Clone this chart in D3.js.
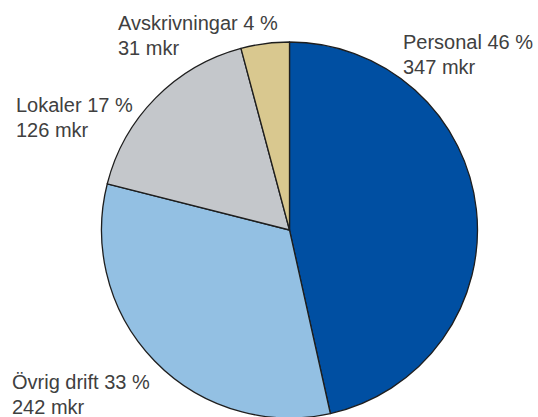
<!DOCTYPE html>
<html>
<head>
<meta charset="utf-8">
<script src="https://cdn.jsdelivr.net/npm/d3@7"></script>
<style>
  html, body { margin: 0; padding: 0; background: #fff; }
  #chart { width: 538px; height: 417px; }
</style>
</head>
<body>
<div id="chart"></div>
<script>
// data, clockwise from 12 o'clock
var categories = ['Personal', 'Övrig drift', 'Lokaler', 'Avskrivningar'];
var amounts = [347, 242, 126, 31];      // mkr
var percents = [46, 33, 17, 4];         // as printed
var colors = ['#004fa2', '#93c0e3', '#c4c7cb', '#d9c88f'];

// label anchors (left x, first baseline)
var labelPos = [[403, 49], [12, 389], [16, 112], [118, 30]];

var width = 538, height = 417;
var cx = 289.5, cy = 230, radius = 188;

var svg = d3.select('#chart').append('svg')
  .attr('width', width)
  .attr('height', height)
  .attr('viewBox', '0 0 ' + width + ' ' + height);

var pie = d3.pie()
  .value(function(d) { return d; })
  .sort(null);

var arc = d3.arc()
  .innerRadius(0)
  .outerRadius(radius);

var g = svg.append('g')
  .attr('transform', 'translate(' + cx + ',' + cy + ')');

g.selectAll('path')
  .data(pie(amounts))
  .enter().append('path')
  .attr('d', arc)
  .attr('fill', function(d, i) { return colors[i]; })
  .attr('stroke', '#1e1e1e')
  .attr('stroke-width', 1.3)
  .attr('stroke-linejoin', 'round');

var labels = svg.selectAll('text.lbl')
  .data(categories)
  .enter().append('text')
  .attr('class', 'lbl')
  .attr('x', function(d, i) { return labelPos[i][0]; })
  .attr('y', function(d, i) { return labelPos[i][1]; })
  .attr('fill', '#404040')
  .style('font-family', '"Liberation Sans", Arial, sans-serif')
  .style('font-size', '20px');

labels.append('tspan')
  .text(function(d, i) { return d + ' ' + percents[i] + ' %'; });

labels.append('tspan')
  .attr('x', function(d, i) { return labelPos[i][0]; })
  .attr('dy', 25)
  .text(function(d, i) { return amounts[i] + ' mkr'; });
</script>
</body>
</html>
